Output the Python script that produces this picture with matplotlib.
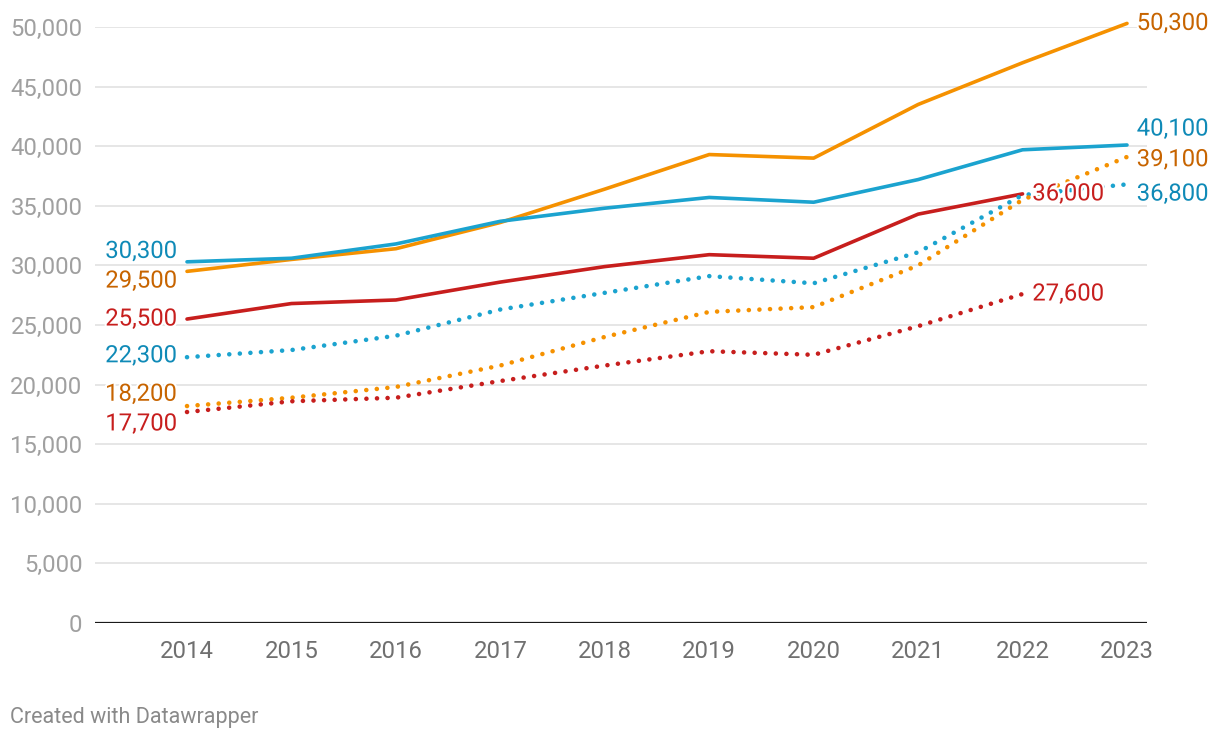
import matplotlib
matplotlib.use("Agg")
import matplotlib.pyplot as plt
import matplotlib.patheffects as pe

plt.rcParams['font.family'] = ['Roboto', 'DejaVu Sans']

years = [2014, 2015, 2016, 2017, 2018, 2019, 2020, 2021, 2022, 2023]
orange_solid = [29500, 30500, 31400, 33600, 36400, 39300, 39000, 43500, 47000, 50300]
blue_solid = [30300, 30600, 31800, 33700, 34800, 35700, 35300, 37200, 39700, 40100]
red_solid = [25500, 26800, 27100, 28600, 29900, 30900, 30600, 34300, 36000]
blue_dotted = [22300, 22900, 24100, 26300, 27700, 29100, 28500, 31100, 35900, 36800]
orange_dotted = [18200, 18900, 19800, 21600, 24000, 26100, 26500, 30000, 35500, 39100]
red_dotted = [17700, 18600, 18900, 20300, 21600, 22800, 22500, 24900, 27600]

yticks = [0, 5000, 10000, 15000, 20000, 25000, 30000, 35000, 40000, 45000, 50000]

ORANGE = '#f59100'
BLUE = '#1ba3cf'
RED = '#c71e1d'
ORANGE_T = '#c76400'
BLUE_T = '#0f8ab7'
RED_T = '#c71e1d'

FS = 17.2

fig = plt.figure(figsize=(12.2, 7.4), dpi=100)
ax = fig.add_axes([95/1220, 117/740, (1147-95)/1220, (623-27)/740])
ax.set_xlim(2014 - 92/104.44, 2023 + 20/104.44)
ax.set_ylim(0, 50000)

for s in ax.spines.values():
    s.set_visible(False)
ax.set_yticks(yticks)
ax.set_yticklabels([f"{v:,}" for v in yticks])
ax.set_xticks(years)
ax.set_xticklabels([str(y) for y in years])
ax.tick_params(axis='y', length=0, pad=9, labelsize=FS, labelcolor='#a0a0a0')
ax.tick_params(axis='x', length=0, pad=12.5, labelsize=FS, labelcolor='#707070')
for t in yticks[1:]:
    ax.axhline(t, color='#e4e4e4', lw=1.3, zorder=0)
ax.axhline(0, color='#1a1a1a', lw=1.6, zorder=1)

dot = (0, (0.01, 2.3))
series = [
    (orange_solid, ORANGE, '-', ORANGE_T),
    (blue_solid, BLUE, '-', BLUE_T),
    (red_solid, RED, '-', RED_T),
    (blue_dotted, BLUE, dot, BLUE_T),
    (orange_dotted, ORANGE, dot, ORANGE_T),
    (red_dotted, RED, dot, RED_T),
]
for vals, c, ls, _ in series:
    if ls == '-':
        ax.plot(years[:len(vals)], vals, color=c, lw=2.6, solid_capstyle='round',
                solid_joinstyle='round', clip_on=False, zorder=3)
    else:
        ax.plot(years[:len(vals)], vals, color=c, lw=3.3, linestyle=ls,
                dash_capstyle='round', clip_on=False, zorder=3)

halo = [pe.withStroke(linewidth=3, foreground='white')]
left_dy = [-7, 7.5, 0, 1, 8.5, -8.6]
right_dy = [0, 11.5, 0, -7, -2, 0]
for (vals, c, ls, tc), ldy, rdy in zip(series, left_dy, right_dy):
    ax.annotate(f"{vals[0]:,}", (years[0], vals[0]), xytext=(-7, ldy),
                textcoords='offset points', ha='right', va='center',
                fontsize=FS, color=tc, zorder=5, annotation_clip=False,
                path_effects=halo)
    ax.annotate(f"{vals[-1]:,}", (years[len(vals)-1], vals[-1]), xytext=(7, rdy),
                textcoords='offset points', ha='left', va='center',
                fontsize=FS, color=tc, zorder=5, annotation_clip=False,
                path_effects=halo)

fig.text(10/1220, 1 - 717/740, "Created with Datawrapper", fontsize=15.5,
         color='#8a8a8a', ha='left', va='center')

fig.savefig('out.png', dpi=100)
